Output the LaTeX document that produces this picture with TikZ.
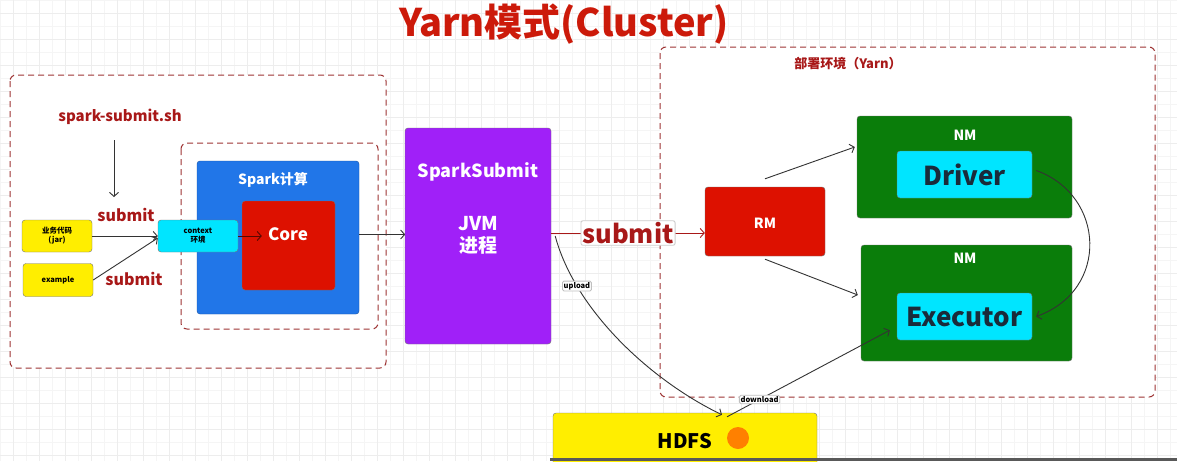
\documentclass[tikz,border=0pt]{standalone}
\usepackage{fontspec}
\setmainfont{Noto Sans CJK SC}
\usetikzlibrary{arrows.meta}
\definecolor{titlered}{HTML}{CC1A0A}
\definecolor{darkred}{HTML}{A81818}
\definecolor{dashred}{HTML}{9E3434}
\definecolor{ybox}{HTML}{FFEE00}
\definecolor{cbox}{HTML}{00E5FF}
\definecolor{bbox}{HTML}{2176E8}
\definecolor{rbox}{HTML}{DD1100}
\definecolor{pbox}{HTML}{A020F8}
\definecolor{gbox}{HTML}{0A7D0A}
\definecolor{ink}{HTML}{1A2B3A}
\tikzset{
  box/.style={rounded corners=3pt, draw=black!55, thin, inner sep=0pt},
  zone/.style={draw=dashred, dash pattern=on 6pt off 4pt, rounded corners=6pt, line width=1pt, fill=white},
  wtxt/.style={text=white, font=\bfseries\fontsize{14}{16}\selectfont},
  link/.style={draw=black!80, line width=0.9pt, -{Straight Barb[length=4pt,width=9pt]}},
  tag/.style={fill=white, draw=black!25, rounded corners=1.5pt, inner sep=1.2pt,
    font=\bfseries\fontsize{7.5}{8}\selectfont}
}
\begin{document}
\begin{tikzpicture}[x=1pt,y=-1pt]
  \useasboundingbox (0,0) rectangle (1177,461);
  \fill[white] (0,0) rectangle (1177,461);
  \foreach \g in {0,13,...,1177} \draw[black!4] (\g,0) -- (\g,461);
  \foreach \g in {0,13,...,461} \draw[black!4] (0,\g) -- (1177,\g);
  \foreach \g in {13,39,...,1177} \draw[black!7] (\g,0) -- (\g,461);
  \foreach \g in {13,39,...,461} \draw[black!7] (0,\g) -- (1177,\g);
  \node[text=titlered, font=\bfseries\fontsize{38}{40}\selectfont] (title) at (564,24) {Yarn模式(Cluster)};
  % client side
  \draw[zone] (10,75) rectangle (386,368);
  \draw[zone] (181,143) rectangle (378,329);
  \node[text=darkred, font=\bfseries\fontsize{15}{17}\selectfont] (sh) at (120,117) {spark-submit.sh};
  \coordinate (shend) at (114,197);
  \draw[link, shorten <=12pt] (sh.south -| shend) -- (shend);
  \node[text=darkred, font=\bfseries\fontsize{16}{18}\selectfont] (sub1) at (126,215) {submit};
  \node[text=darkred, font=\bfseries\fontsize{16}{18}\selectfont] (sub2) at (134,279) {submit};
  \node[box, fill=ybox, minimum width=70pt, minimum height=32pt, align=center,
    font=\bfseries\fontsize{7.5}{9}\selectfont] (jar) at (57,236) {业务代码\\(jar)};
  \node[box, fill=ybox, minimum width=70pt, minimum height=33pt,
    font=\bfseries\fontsize{7.5}{9}\selectfont] (ex) at (58,280) {example};
  \node[box, fill=bbox, draw=bbox!70!black, minimum width=162pt, minimum height=153pt] (spark) at (278,237.5) {};
  \node[wtxt] at (273,180) {Spark计算};
  \node[box, fill=rbox, minimum width=93pt, minimum height=89pt] (core) at (288.5,245.5) {};
  \node[wtxt, font=\bfseries\fontsize{17}{19}\selectfont] at (288,234) {Core};
  \node[box, fill=cbox, minimum width=80pt, minimum height=32pt, align=center,
    font=\bfseries\fontsize{7.5}{9}\selectfont] (ctx) at (198,236) {context\\环境};
  \draw[link] (jar.east) -- (ctx.west);
  \draw[link] (ex.east) -- ([yshift=-2pt]ctx.west);
  \draw[link, draw=black!60!rbox] (ctx.east) -- ([xshift=20pt]core.west |- ctx.east);
  \draw[link] ([yshift=3pt]spark.east) -- ++(46,0);
  % SparkSubmit
  \node[box, fill=pbox, minimum width=146pt, minimum height=216pt] (ss) at (478,236) {};
  \node[wtxt, font=\bfseries\fontsize{18}{20}\selectfont] at (478,172) {SparkSubmit};
  \node[wtxt, font=\bfseries\fontsize{19}{22}\selectfont, align=center] at (478,235) {JVM\\进程};
  % yarn side
  \draw[zone] (660,47) rectangle (1155,397);
  \node[text=darkred, font=\bfseries\fontsize{13}{15}\selectfont] at (848,64) {部署环境（Yarn）};
  \node[box, fill=rbox, minimum width=120pt, minimum height=69pt] (rm) at (765,221.5) {};
  \node[wtxt] at (765,223) {RM};
  \node[box, fill=gbox, minimum width=215pt, minimum height=102pt] (nm1) at (964.5,167) {};
  \node[wtxt] at (965,135) {NM};
  \node[box, fill=cbox, minimum width=135pt, minimum height=47pt, text=ink,
    font=\bfseries\fontsize{26}{28}\selectfont] (drv) at (964.5,174.5) {Driver};
  \node[box, fill=gbox, minimum width=211pt, minimum height=116pt] (nm2) at (966.5,303) {};
  \node[wtxt] at (965,258) {NM};
  \node[box, fill=cbox, minimum width=135pt, minimum height=47pt, text=ink,
    font=\bfseries\fontsize{26}{28}\selectfont] (exe) at (964.5,316.5) {Executor};
  \draw[link, draw=darkred] ([yshift=3pt]ss.east) -- (rm.west |- 0,233)
    node[midway, fill=white, draw=black!20, rounded corners=2pt, inner sep=1.5pt, text=darkred,
      font=\bfseries\fontsize{25.5}{27}\selectfont] {submit};
  \draw[link] ([yshift=8pt]rm.north) -- ([xshift=-2pt,yshift=20pt]nm1.west);
  \draw[link] ([yshift=-3pt]rm.south) -- ([xshift=-3pt,yshift=8pt]nm2.west);
  \draw[link] ([xshift=4pt,yshift=4pt]drv.east) .. controls (1105,195) and (1110,290) .. ([xshift=4pt]exe.east);
  % HDFS
  \node[box, fill=ybox, minimum width=264pt, minimum height=60pt] (hdfs) at (685,443) {};
  \node[font=\bfseries\fontsize{20}{22}\selectfont] at (685,441) {HDFS};
  \fill[orange] (738,438) circle (11);
  \draw[link] ([xshift=4pt]ss.east) .. controls (575,310) and (650,380) .. ([xshift=37pt,yshift=-2pt]hdfs.north)
    node[tag, pos=0.23] {upload};
  \draw[link] ([xshift=42pt,yshift=-4pt]hdfs.north) -- ([xshift=-7pt,yshift=10pt]exe.south west)
    node[tag, pos=0.2] {download};
  \fill[black!65] (550,458) rectangle (1177,461);
\end{tikzpicture}
\end{document}
